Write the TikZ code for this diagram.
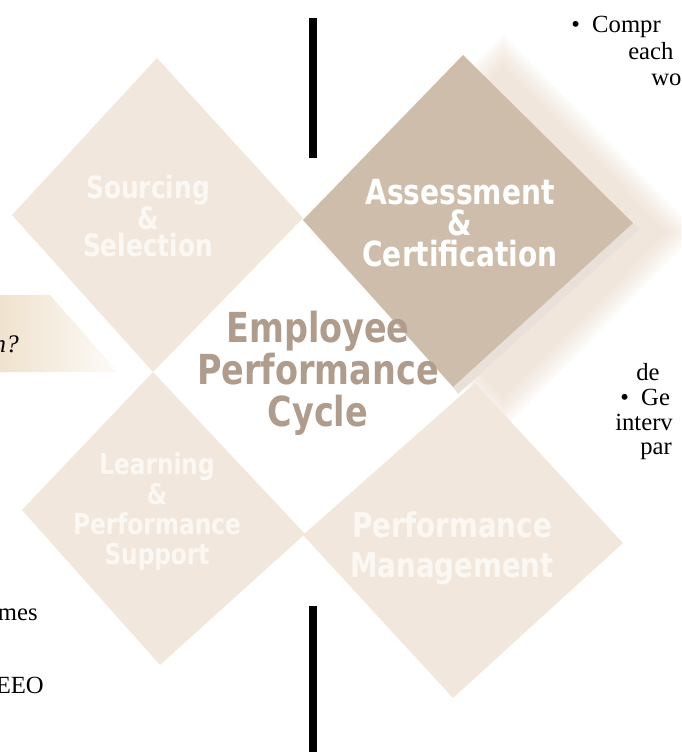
\documentclass[tikz,border=0pt]{standalone}
\usepackage{fontspec}
\setmainfont{Liberation Serif}
\newfontfamily\tilefont{DejaVu Sans Condensed Bold}[FakeStretch=0.9]
\newfontfamily\cyclefont{DejaVu Sans Condensed Bold}[FakeStretch=0.9]
\definecolor{tileLight}{RGB}{242,231,221}
\definecolor{tileDark}{RGB}{207,189,171}
\definecolor{glowTan}{RGB}{226,204,182}
\definecolor{labelWhite}{RGB}{251,248,244}
\definecolor{cycleBrown}{RGB}{176,156,140}
\definecolor{boxTan}{RGB}{240,226,206}

\begin{document}
\begin{tikzpicture}[x=0.75pt,y=-0.75pt]
    % Styles
    \tikzset{
      tile/.style={fill=tileLight},
      tile label/.style={text=labelWhite, align=center, inner sep=0pt},
      body text/.style={font=\fontsize{18.5}{21}\selectfont, inner sep=0pt},
      bar/.style={fill=black}
    }
    \useasboundingbox (0,0) rectangle (681,752);
    \clip (0,0) rectangle (681,752);

    % --- Glow behind Assessment ---
    \foreach \s in {1.18,1.15,...,1.0}
      \fill[glowTan,opacity=0.09] (503,232) ++(0,{-167*\s}) -- ++({165*\s},{167*\s})
        -- ++({-165*\s},{167*\s}) -- ++({-165*\s},{-167*\s}) -- cycle;

    % --- Tiles ---
    \fill[tile] (157,58) -- (303,218) -- (153,372) -- (12,215) -- cycle;
    \fill[tile] (153,372) -- (305,534) -- (160,665) -- (22,510) -- cycle;
    \fill[tile] (475,383) -- (623,543) -- (453,698) -- (303,535) -- cycle;
    \fill[tileDark!45!white] (633,223) -- (640,229) -- (458,394) -- (453,387) -- cycle;
    \fill[tileDark] (463,55) -- (633,223) -- (453,387) -- (303,220) -- cycle;

    % --- Tile labels ---
    \node[tile label, font=\tilefont\fontsize{23}{20}\selectfont] (src) at (148,216) {Sourcing\\\&\\Selection};
    \node[tile label, text=white, font=\tilefont\fontsize{26}{23.25}\selectfont] (asm) at (460,223) {Assessment\\\&\\Certification};
    \node[tile label, font=\tilefont\fontsize{21.5}{22.5}\selectfont] (lps) at (157,512) {Learning\\\&\\Performance\\Support};
    \node[tile label, font=\tilefont\fontsize{25.6}{30}\selectfont] (pm) at (452,548) {Performance\\Management};

    % --- Centre ---
    \node[tile label, text=cycleBrown, font=\cyclefont\fontsize{31}{31.5}\selectfont] (epc) at (318,373) {Employee\\Performance\\Cycle};

    % --- Bars ---
    \fill[bar] (309,18) rectangle (317,158);
    \fill[bar] (309,606) rectangle (317,752);

    % --- Question box ---
    \shade[left color=boxTan, right color=boxTan!15] (0,295) -- (50,295) -- (118,372) -- (0,372) -- cycle;
    \node[body text, anchor=base east, font=\itshape\fontsize{19}{22}\selectfont] (quest) at (19,352) {n?};

    % --- Side text ---
    \node[body text, anchor=base west] (compr) at (571,33) {\textbullet\hskip0.5em Compr};
    \node[body text, anchor=base west] (each) at (628,60) {each};
    \node[body text, anchor=base west] (wo) at (651,86) {wo};
    \node[body text, anchor=base west] (de) at (636,380) {de};
    \node[body text, anchor=base west] (gen) at (620,405) {\textbullet\hskip0.5em Ge};
    \node[body text, anchor=base west] (interv) at (615,430) {interv};
    \node[body text, anchor=base west] (par) at (640,454) {par};
    \node[body text, anchor=base east] (mes) at (38,620) {mes};
    \node[body text, anchor=base east] (eeo) at (44,693) {EEO};
\end{tikzpicture}
\end{document}
